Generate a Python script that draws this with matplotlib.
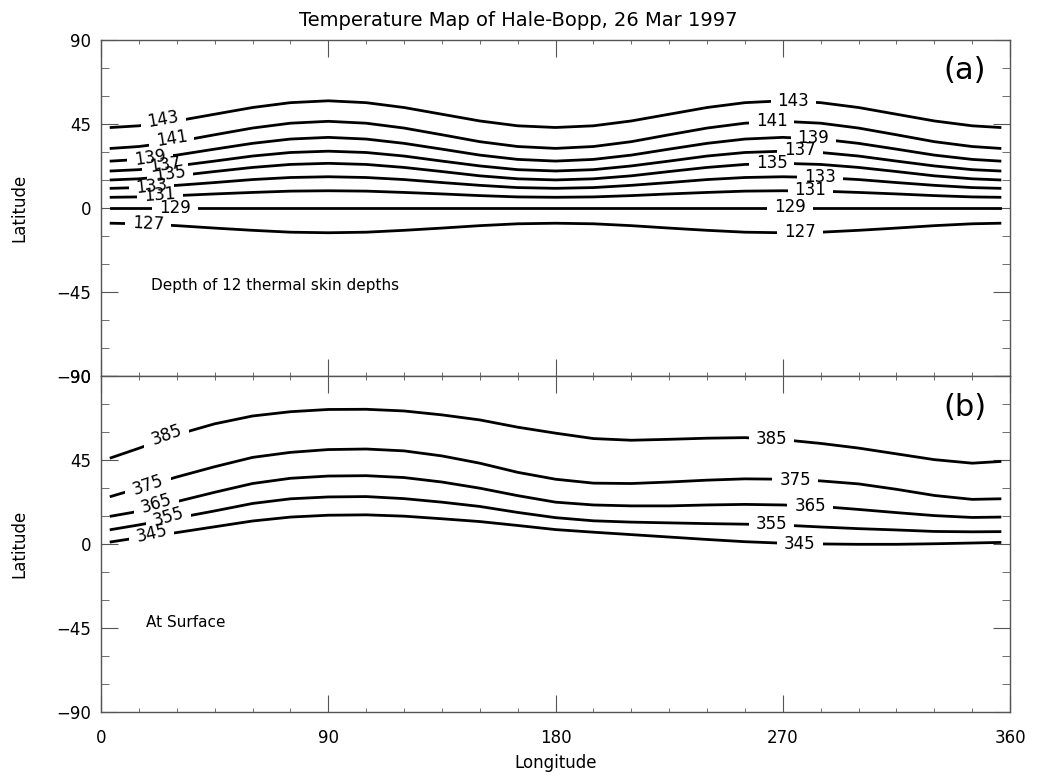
import matplotlib
matplotlib.use("Agg")
import matplotlib.pyplot as plt
import numpy as np
from matplotlib.patches import Rectangle
from matplotlib.ticker import MultipleLocator

# ---- longitudes where each isotherm was read (deg) ----
lon = [4, 15, 30, 45, 60, 75, 90, 105, 120, 135, 150, 165, 180,
       195, 210, 225, 240, 255, 270, 285, 300, 315, 330, 345, 356]

# ---- (a) 12 thermal skin depths: latitude of each isotherm (K) ----
levels_a = [143, 141, 139, 137, 135, 133, 131, 129, 127]
lat_a = {
    143: [43.3, 44.2, 46.8, 50.4, 54.0, 56.6, 57.6, 56.6, 54.0, 50.4, 46.8, 44.2, 43.3,
          44.2, 46.8, 50.4, 54.0, 56.6, 57.6, 56.6, 54.0, 50.4, 46.8, 44.2, 43.3],
    141: [32.1, 33.1, 35.7, 39.4, 43.0, 45.6, 46.6, 45.6, 43.0, 39.4, 35.7, 33.1, 32.1,
          33.1, 35.7, 39.4, 43.0, 45.6, 46.6, 45.6, 43.0, 39.4, 35.7, 33.1, 32.1],
    139: [25.3, 26.2, 28.5, 31.7, 34.8, 37.1, 38.0, 37.1, 34.8, 31.7, 28.5, 26.2, 25.3,
          26.2, 28.5, 31.7, 34.8, 37.1, 38.0, 37.1, 34.8, 31.7, 28.5, 26.2, 25.3],
    137: [20.0, 20.7, 22.7, 25.3, 28.0, 29.9, 30.6, 29.9, 28.0, 25.3, 22.7, 20.7, 20.0,
          20.7, 22.7, 25.3, 28.0, 29.9, 30.6, 29.9, 28.0, 25.3, 22.7, 20.7, 20.0],
    135: [15.2, 15.8, 17.4, 19.7, 21.9, 23.5, 24.1, 23.5, 21.9, 19.7, 17.4, 15.8, 15.2,
          15.8, 17.4, 19.7, 21.9, 23.5, 24.1, 23.5, 21.9, 19.7, 17.4, 15.8, 15.2],
    133: [10.7, 11.1, 12.3, 13.8, 15.4, 16.5, 16.9, 16.5, 15.4, 13.8, 12.3, 11.1, 10.7,
          11.1, 12.3, 13.8, 15.4, 16.5, 16.9, 16.5, 15.4, 13.8, 12.3, 11.1, 10.7],
    131: [5.9, 6.1, 6.8, 7.7, 8.5, 9.2, 9.4, 9.2, 8.5, 7.7, 6.8, 6.1, 5.9,
          6.1, 6.8, 7.7, 8.5, 9.2, 9.4, 9.2, 8.5, 7.7, 6.8, 6.1, 5.9],
    129: [0.0] * 25,
    127: [-8.0, -8.3, -9.3, -10.6, -11.8, -12.8, -13.1, -12.8, -11.8, -10.6, -9.3, -8.3, -8.0,
          -8.3, -9.3, -10.6, -11.8, -12.8, -13.1, -12.8, -11.8, -10.6, -9.3, -8.3, -8.0],
}
# label spots (lon, lat, rotation) left and right
lab_a_left = {143: (24.7, 47.7, 10), 141: (28.0, 37.5, 9), 139: (19.4, 26.8, 8),
              137: (25.3, 23.2, 8), 135: (27.3, 18.2, 8), 133: (20.0, 11.9, 6),
              131: (23.4, 7.1, 4), 129: (29.3, 0.3, 0), 127: (18.7, -8.4, -3)}
lab_a_right = {143: (274.2, 57.6), 141: (265.6, 46.9), 139: (282.1, 37.5),
               137: (276.8, 31.2), 135: (265.6, 24.4), 133: (284.8, 16.9),
               131: (281.0, 9.8), 129: (272.9, 0.5), 127: (276.8, -12.5)}

# ---- (b) at the surface ----
levels_b = [385, 375, 365, 355, 345]
lat_b = {
    385: [46.3, 51.4, 58.7, 64.5, 68.7, 71.0, 72.2, 72.3, 71.4, 69.3, 66.6, 62.7, 59.5,
          56.6, 55.7, 56.2, 56.8, 57.1, 56.0, 54.0, 51.5, 48.4, 45.3, 43.4, 44.3],
    375: [25.6, 30.0, 36.0, 41.5, 46.5, 49.2, 50.7, 51.0, 50.0, 47.3, 43.4, 38.5, 34.8,
          32.7, 32.5, 33.3, 34.3, 35.0, 34.8, 33.9, 32.3, 29.4, 26.1, 24.0, 24.3],
    365: [15.0, 17.6, 22.8, 27.8, 32.5, 35.3, 36.5, 36.7, 35.7, 33.3, 30.0, 26.0, 22.5,
          21.0, 20.5, 20.5, 21.0, 21.3, 21.0, 20.2, 18.6, 16.9, 15.3, 14.3, 14.5],
    355: [7.8, 10.3, 14.0, 17.8, 21.8, 24.3, 25.3, 25.5, 24.4, 22.5, 20.2, 17.0, 14.2,
          12.5, 11.8, 11.4, 11.0, 10.7, 10.2, 9.2, 8.3, 7.6, 6.8, 6.6, 6.7],
    345: [1.2, 3.5, 6.2, 9.3, 12.4, 14.5, 15.5, 15.7, 15.0, 13.6, 12.1, 10.0, 7.8,
          6.4, 5.1, 3.8, 2.5, 1.3, 0.5, 0.1, -0.1, -0.1, 0.2, 0.6, 0.9],
}
lab_b_left = {385: (26.0, 58.6, 20), 375: (18.7, 31.8, 19), 365: (22.0, 21.6, 17),
              355: (26.7, 14.8, 16), 345: (20.0, 5.5, 13)}
lab_b_right = {385: (265.6, 56.3), 375: (274.9, 34.5), 365: (280.8, 20.5),
               355: (265.6, 10.7), 345: (276.8, 0.2)}

spine_col = "#555555"
gap = 9.0  # half width (deg of longitude) of the break under each label

fig = plt.figure(figsize=(10.37, 7.8), dpi=100)
ax1 = fig.add_axes([0.0974, 0.5176, 0.8766, 0.4307])
ax2 = fig.add_axes([0.0974, 0.0872, 0.8766, 0.4304])


def style(ax):
    ax.set_xlim(0, 360)
    ax.set_ylim(-90, 90)
    ax.xaxis.set_major_locator(MultipleLocator(90))
    ax.xaxis.set_minor_locator(MultipleLocator(15))
    ax.yaxis.set_major_locator(MultipleLocator(45))
    ax.yaxis.set_minor_locator(MultipleLocator(15))
    ax.tick_params(which="both", direction="in", top=True, right=True,
                   color=spine_col, labelsize=12)
    ax.tick_params(axis="y", which="major", length=12, pad=7)
    ax.tick_params(axis="y", which="minor", length=6)
    ax.tick_params(axis="x", which="major", length=12, pad=12)
    ax.tick_params(axis="x", which="minor", length=3)
    for s in ax.spines.values():
        s.set_color(spine_col)
        s.set_linewidth(1.0)
    ax.set_ylabel("Latitude", fontsize=12)
    ax.yaxis.set_label_coords(-0.08, 0.5)


def draw(ax, levels, lats, left, right):
    for lev in levels:
        ax.plot(lon, lats[lev], color="black", linewidth=2.0, zorder=2)
    for lev in levels:
        spots = [left[lev], right[lev] + (0,)]
        for x, y, r in spots:
            # break this isotherm only, under its own label
            cover, = ax.plot(lon, lats[lev], color="white", linewidth=5, zorder=2.5)
            cover.set_clip_path(Rectangle((x - gap, -90), 2 * gap, 180,
                                          transform=ax.transData))
            ax.text(x, y, str(lev), fontsize=12, ha="center", va="center",
                    rotation=r, zorder=3)


draw(ax1, levels_a, lat_a, lab_a_left, lab_a_right)
draw(ax2, levels_b, lat_b, lab_b_left, lab_b_right)
style(ax1)
style(ax2)
ax1.tick_params(labelbottom=False)

ax1.text(342, 74, "(a)", fontsize=22, ha="center", va="center")
ax2.text(342, 73, "(b)", fontsize=22, ha="center", va="center")
ax1.text(19.8, -41.6, "Depth of 12 thermal skin depths", fontsize=11, va="center")
ax2.text(18.0, -42.1, "At Surface", fontsize=11, va="center")

ax2.set_xlabel("Longitude", fontsize=12)
ax2.xaxis.set_label_coords(0.5, -0.125)

fig.text(0.5, 0.974, "Temperature Map of Hale-Bopp, 26 Mar 1997",
         fontsize=14, ha="center", va="center")

plt.savefig("out.png", dpi=100)
print("Saved: out.png")
